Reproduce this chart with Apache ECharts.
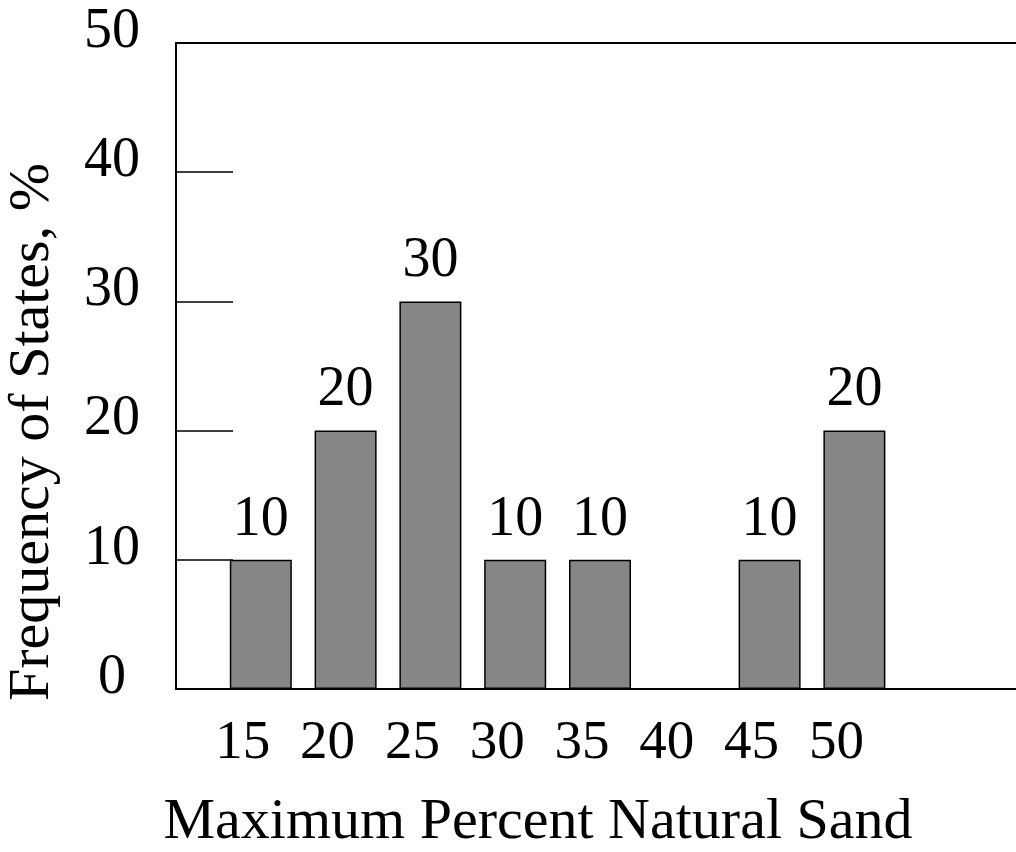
<!DOCTYPE html>
<html>
<head>
<meta charset="utf-8">
<title>Maximum Percent Natural Sand</title>
<script src="https://cdn.jsdelivr.net/npm/echarts@6/dist/echarts.min.js"></script>
<style>
  html, body { margin: 0; padding: 0; background: #fff; }
  #chart { width: 1016px; height: 852px; }
</style>
</head>
<body>
<div id="chart"></div>
<script>
// sand limits (x) and share of states (y)
const sandLimits = [15, 20, 25, 30, 35, 40, 45, 50];
const stateShare = [10, 20, 30, 10, 10, 0, 10, 20];
const xTickLabels = ['15', '20', '25', '30', '35', '40', '45', '50'];
const yTickLabels = ['0', '10', '20', '30', '40', '50'];

const serif = "'Liberation Serif', 'Times New Roman', serif";

const barData = sandLimits
  .map((x, i) => [x, stateShare[i]])
  .filter(d => d[1] > 0);

let myChart = echarts.init(document.getElementById('chart'));
myChart.setOption({
  animation: false,
  textStyle: { fontFamily: serif, color: '#000' },
  grid: { left: 176, right: -8, top: 43, bottom: 163, outerBoundsMode: 'none', containLabel: false },
  xAxis: [
    {
      type: 'value',
      min: 10,
      max: 60,
      interval: 5,
      name: 'Maximum Percent Natural Sand',
      nameLocation: 'middle',
      nameGap: 105,
      nameTextStyle: { fontFamily: serif, fontSize: 58, color: '#000', padding: [0, 124, 0, 0] },
      axisLine: { show: true, lineStyle: { color: '#000', width: 2 } },
      axisTick: { show: false },
      splitLine: { show: false },
      axisLabel: {
        fontFamily: serif,
        fontSize: 55,
        color: '#000',
        margin: 27,
        padding: [0, 36, 0, 0],
        formatter: v => xTickLabels.includes(String(v)) ? String(v) : ''
      }
    },
    {
      type: 'value',
      position: 'top',
      min: 10,
      max: 60,
      axisLine: { show: true, lineStyle: { color: '#000', width: 2 } },
      axisTick: { show: false },
      axisLabel: { show: false },
      splitLine: { show: false }
    }
  ],
  yAxis: {
    type: 'value',
    min: 0,
    max: 50,
    interval: 10,
    name: 'Frequency of States, %',
    nameLocation: 'middle',
    nameRotate: 90,
    nameGap: 114,
    nameTextStyle: { fontFamily: serif, fontSize: 58, color: '#000', padding: [0, 132, 0, 0] },
    axisLine: { show: true, lineStyle: { color: '#000', width: 2 } },
    axisTick: { show: true, inside: true, length: 57, lineStyle: { color: '#000', width: 1.5 } },
    splitLine: { show: false },
    axisLabel: {
      fontFamily: serif,
      fontSize: 56,
      color: '#000',
      align: 'center',
      verticalAlign: 'bottom',
      lineHeight: 22,
      margin: 64,
      formatter: v => yTickLabels.includes(String(v)) ? String(v) : ''
    }
  },
  series: [{
    type: 'bar',
    data: barData,
    barWidth: 62,
    itemStyle: { color: '#868686', borderColor: '#000', borderWidth: 1.5 },
    label: {
      show: true,
      position: 'top',
      distance: 12,
      fontFamily: serif,
      fontSize: 56,
      color: '#000'
    }
  }]
});
</script>
</body>
</html>
